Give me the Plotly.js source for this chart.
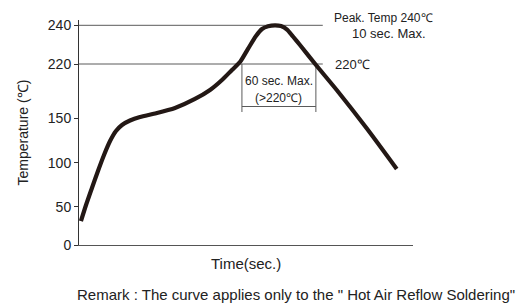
<!DOCTYPE html>
<html>
<head>
<meta charset="utf-8">
<script src="https://cdn.plot.ly/plotly-3.0.1.min.js"></script>
<style>
html,body{margin:0;padding:0;background:#fff;}
#chart{width:519px;height:304px;}
</style>
</head>
<body>
<div id="chart"></div>
<script>
// ---- data ----
// time in seconds, temperature in °C
const timeSec = [1.6, 5.7, 10.5, 15.4, 20.3, 25.2, 30.0, 34.9, 41.4, 49.5, 61.7, 77.9, 94.1, 106.3, 116.0, 124.1, 130.6, 137.1, 143.6, 148.5, 153.4, 159.0, 163.9, 168.8, 173.6, 179.3, 192.3, 209.1, 233.4, 257.8];
const tempC   = [31.3, 51.9, 71.3, 90.6, 108.7, 124.4, 135.7, 142.5, 147.5, 151.7, 156.2, 163.3, 174.9, 186.5, 199.4, 212.3, 221.0, 227.8, 234.5, 238.1, 239.5, 240, 239.6, 237.8, 234.2, 229.8, 218.7, 186.5, 138.7, 92.8];

const yTickTemps = [0, 50, 100, 150, 220, 240];
const yTickLabels = ['0', '50', '100', '150', '220', '240'];

const peakTemp = 240;
const limitTemp = 220;
const windowStart = 132.2;   // s, start of the time above 220 °C
const windowLength = 60;     // s, time above 220 °C

// ---- schematic (not to scale) temperature axis ----
// axis position of each tick label; the original axis spacing is non-uniform
const yTickPos = [0, 38.3, 82.3, 126.7, 181, 219.7];
function yScale(t) {
  for (let i = 0; i < yTickTemps.length - 1; i++) {
    const a = yTickTemps[i], b = yTickTemps[i + 1];
    if (t <= b || i === yTickTemps.length - 2) {
      return yTickPos[i] + (t - a) / (b - a) * (yTickPos[i + 1] - yTickPos[i]);
    }
  }
}

const mainFont = 'Liberation Sans, Arial, sans-serif';
const ink = '#231815';
const refLine = '#5a5a5a';
const textColor = '#222';

const lineEnd = 197.8; // s, end of the reference lines

const trace = {
  x: timeSec,
  y: tempC.map(yScale),
  type: 'scatter',
  mode: 'lines',
  line: {color: ink, width: 4.2, shape: 'spline', smoothing: 0.7},
  hoverinfo: 'skip'
};

const yLim = yScale(limitTemp);
const yPeak = yScale(peakTemp);

const shapes = [
  {type: 'line', xref: 'x', yref: 'y', x0: 0, x1: lineEnd, y0: yPeak, y1: yPeak, line: {color: refLine, width: 1}, layer: 'below'},
  {type: 'line', xref: 'x', yref: 'y', x0: 0, x1: lineEnd, y0: yLim, y1: yLim, line: {color: refLine, width: 1}, layer: 'below'},
  {type: 'line', xref: 'x', yref: 'y', x0: windowStart, x1: windowStart, y0: yLim, y1: yLim - 48, line: {color: refLine, width: 1}, layer: 'below'},
  {type: 'line', xref: 'x', yref: 'y', x0: windowStart + windowLength, x1: windowStart + windowLength, y0: yLim, y1: yLim - 48, line: {color: refLine, width: 1}, layer: 'below'},
  {type: 'line', xref: 'x', yref: 'y', x0: windowStart, x1: windowStart + windowLength, y0: yLim - 42.5, y1: yLim - 42.5, line: {color: refLine, width: 1}, layer: 'below'}
];

const annotations = [
  {xref: 'x', yref: 'y', x: windowStart + windowLength / 2, y: yLim, yshift: -17, text: '60 sec. Max.', showarrow: false, font: {family: mainFont, size: 12, color: textColor}, xanchor: 'center', yanchor: 'middle'},
  {xref: 'x', yref: 'y', x: windowStart + windowLength / 2, y: yLim, yshift: -34, text: '(>220℃)', showarrow: false, font: {family: mainFont, size: 12, color: textColor}, xanchor: 'center', yanchor: 'middle'},
  {xref: 'x', yref: 'y', x: lineEnd, y: yPeak, yshift: 7, xshift: 9, text: 'Peak. Temp 240℃', showarrow: false, font: {family: mainFont, size: 12, color: textColor}, xanchor: 'left', yanchor: 'middle'},
  {xref: 'x', yref: 'y', x: lineEnd, y: yPeak, yshift: -8, xshift: 27, text: '10 sec. Max.', showarrow: false, font: {family: mainFont, size: 13, color: textColor}, xanchor: 'left', yanchor: 'middle'},
  {xref: 'x', yref: 'y', x: lineEnd, y: yLim, xshift: 10, text: '220℃', showarrow: false, font: {family: mainFont, size: 13, color: textColor}, xanchor: 'left', yanchor: 'middle'},
  {xref: 'paper', yref: 'paper', x: 0, y: 0.5, text: 'Temperature (℃)', textangle: -90, showarrow: false, font: {family: mainFont, size: 14, color: textColor}, xanchor: 'center', yanchor: 'middle', xshift: -57},
  {xref: 'paper', yref: 'paper', x: 0.5, y: 0, text: 'Time(sec.)', showarrow: false, font: {family: mainFont, size: 15, color: textColor}, xanchor: 'center', yanchor: 'middle', yshift: -18},
  {xref: 'paper', yref: 'paper', x: 0.5, y: 0, text: 'Remark : The curve applies only to the " Hot Air Reflow Soldering"', showarrow: false, font: {family: mainFont, size: 15, color: textColor}, xanchor: 'center', yanchor: 'middle', xshift: 50, yshift: -49}
];

const layout = {
  width: 519,
  height: 304,
  margin: {l: 79, r: 106, t: 20, b: 59},
  paper_bgcolor: '#fff',
  plot_bgcolor: '#fff',
  showlegend: false,
  xaxis: {
    range: [0, 271],
    showgrid: false,
    zeroline: false,
    showticklabels: false,
    ticks: '',
    showline: true,
    linecolor: '#555',
    linewidth: 1,
    fixedrange: true
  },
  yaxis: {
    range: [0, 225],
    showgrid: false,
    zeroline: false,
    tickmode: 'array',
    tickvals: yTickTemps.map(yScale),
    ticktext: yTickLabels,
    ticks: 'outside',
    ticklen: 4,
    tickcolor: '#333',
    tickfont: {family: mainFont, size: 14, color: textColor},
    showline: true,
    linecolor: '#333',
    linewidth: 1,
    fixedrange: true
  },
  shapes: shapes,
  annotations: annotations
};

Plotly.newPlot('chart', [trace], layout, {displayModeBar: false, staticPlot: true});
</script>
</body>
</html>
